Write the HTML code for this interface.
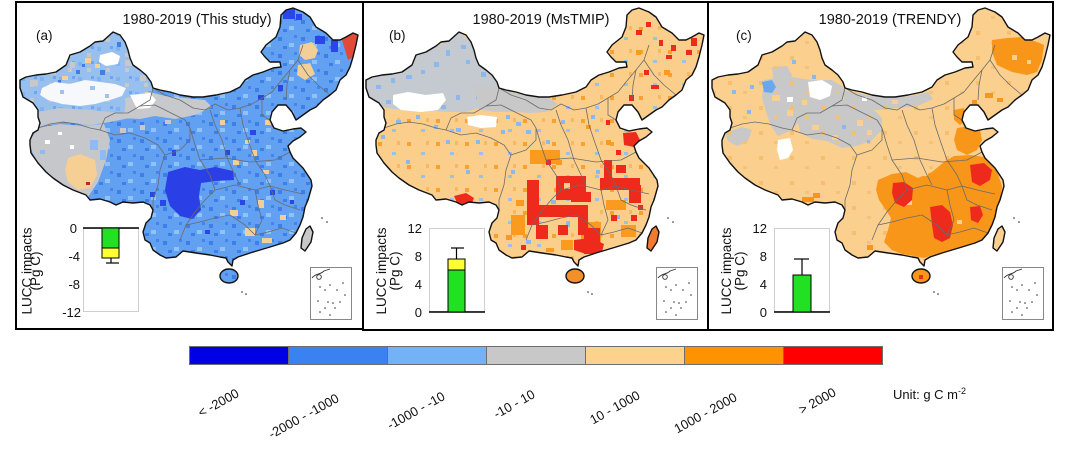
<!DOCTYPE html>
<html><head><meta charset="utf-8"><style>
html,body{margin:0;padding:0;background:#fff;}
svg{display:block;font-family:"Liberation Sans",Arial,sans-serif;}
</style></head><body>
<svg width="1080" height="452" viewBox="0 0 1080 452" xmlns="http://www.w3.org/2000/svg">
<defs>
<path id="cn" d="M20,88 L20,80 26,77 36,75 46,74 56,72 66,65 70,55 80,52 90,46 95,42 103,41 113,32 120,35 125,42 128,50 130,58 133,65 140,70 146,75 151,82 153,88 160,90 170,92 180,95 193,97 203,97 216,95 230,92 240,87 245,80 253,75 263,72 273,68 281,67 280,62 270,62 265,57 261,52 266,45 276,37 280,27 281,15 286,10 293,8 303,12 310,17 316,27 326,33 333,40 340,40 346,37 353,33 358,35 356,45 353,57 350,67 346,75 340,80 336,90 330,95 323,100 316,107 310,110 303,115 296,120 292,112 286,105 278,105 272,112 270,120 274,128 283,131 293,129 301,128 306,132 300,137 293,141 288,146 290,152 293,158 298,163 303,168 307,174 311,180 312,186 310,193 308,200 305,207 303,217 300,225 296,233 290,240 283,243 270,247 260,250 250,253 238,257 233,260 232,266 228,262 226,258 220,257 210,255 196,253 183,251 176,257 166,258 160,255 153,250 150,243 145,240 143,232 146,223 151,218 153,210 150,205 143,202 133,203 123,202 116,205 110,202 100,199 90,200 86,195 73,190 63,185 53,178 46,172 38,163 31,153 30,145 30,140 33,133 38,130 40,123 38,117 38,110 33,103 28,100 23,97 Z"/>
<clipPath id="clip">
<path d="M20,88 L20,80 26,77 36,75 46,74 56,72 66,65 70,55 80,52 90,46 95,42 103,41 113,32 120,35 125,42 128,50 130,58 133,65 140,70 146,75 151,82 153,88 160,90 170,92 180,95 193,97 203,97 216,95 230,92 240,87 245,80 253,75 263,72 273,68 281,67 280,62 270,62 265,57 261,52 266,45 276,37 280,27 281,15 286,10 293,8 303,12 310,17 316,27 326,33 333,40 340,40 346,37 353,33 358,35 356,45 353,57 350,67 346,75 340,80 336,90 330,95 323,100 316,107 310,110 303,115 296,120 292,112 286,105 278,105 272,112 270,120 274,128 283,131 293,129 301,128 306,132 300,137 293,141 288,146 290,152 293,158 298,163 303,168 307,174 311,180 312,186 310,193 308,200 305,207 303,217 300,225 296,233 290,240 283,243 270,247 260,250 250,253 238,257 233,260 232,266 228,262 226,258 220,257 210,255 196,253 183,251 176,257 166,258 160,255 153,250 150,243 145,240 143,232 146,223 151,218 153,210 150,205 143,202 133,203 123,202 116,205 110,202 100,199 90,200 86,195 73,190 63,185 53,178 46,172 38,163 31,153 30,145 30,140 33,133 38,130 40,123 38,117 38,110 33,103 28,100 23,97 Z"/>
<ellipse cx="229" cy="276" rx="9" ry="7"/>
<path d="M310,226 L313,232 311,242 305,251 301,248 302,238 306,229 Z"/>
</clipPath>
<pattern id="pA" width="23" height="17" patternUnits="userSpaceOnUse">
<rect x="2" y="3" width="4" height="4" fill="#3d7ee8"/>
<rect x="13" y="9" width="5" height="4" fill="#8ec2f8"/>
<rect x="18" y="1" width="3" height="3" fill="#4585ea"/>
<rect x="7" y="12" width="4" height="3" fill="#3d7ee8"/>
</pattern>
<pattern id="pX" width="19" height="15" patternUnits="userSpaceOnUse">
<rect x="2" y="2" width="4" height="4" fill="#7fb2f0"/>
<rect x="11" y="8" width="4" height="4" fill="#c8c8c8"/>
<rect x="15" y="1" width="3" height="3" fill="#6da5f0"/>
</pattern>
<pattern id="pB" width="29" height="23" patternUnits="userSpaceOnUse">
<rect x="3" y="4" width="4" height="4" fill="#f9a030"/>
<rect x="17" y="14" width="4" height="3" fill="#9cc0ea"/>
<rect x="22" y="3" width="3" height="4" fill="#f6b860"/>
</pattern>
<pattern id="pC" width="31" height="25" patternUnits="userSpaceOnUse">
<rect x="5" y="6" width="4" height="4" fill="#f6bf70"/>
<rect x="20" y="16" width="4" height="3" fill="#f3c37c"/>
</pattern>
<g id="prov" fill="none" stroke="#6b6b6b" stroke-width="0.8" stroke-linejoin="round">
<path d="M38,128 L50,124 63,122 77,124 90,128 100,130 105,118 115,113 128,113 140,106 150,100 153,88"/>
<path d="M100,130 L115,135 130,133 145,138 158,145 165,155"/>
<path d="M140,106 L155,105 165,110 175,115 185,120 190,128"/>
<path d="M165,155 L160,170 158,185 153,200 153,210"/>
<path d="M153,88 L165,95 180,100 193,108 205,110 215,104 228,110 240,108 252,104 262,98 272,92 280,82 290,70 298,60 303,45"/>
<path d="M190,128 L195,145 200,160 210,175 215,190 205,200 195,212 186,225 180,240"/>
<path d="M186,225 L200,222 215,218 230,215 245,225 255,235 268,232 282,228 296,233"/>
<path d="M215,190 L235,185 255,190 270,186 285,190 303,194"/>
<path d="M210,110 L215,125 222,140 228,160 235,175 240,185"/>
<path d="M240,108 L243,125 248,140 255,160 265,175 270,186"/>
<path d="M200,160 L225,158 250,162 275,160 290,152"/>
<path d="M255,190 L258,205 262,220 255,235"/>
<path d="M298,60 L308,75 318,85 330,95"/>
<path d="M290,70 L287,85 286,100"/>
<path d="M262,98 L262,115 270,120"/>
<path d="M165,155 L180,150 190,140 190,128"/>
<path d="M270,186 L275,200 285,205 300,210"/>
</g>
<g id="outl" fill="none" stroke="#111" stroke-width="1.4" stroke-linejoin="round">
<use href="#cn"/>
<ellipse cx="229" cy="276" rx="9" ry="7"/>
<path d="M310,226 L313,232 311,242 305,251 301,248 302,238 306,229 Z"/>
<circle cx="242" cy="292" r="0.8" fill="#222" stroke="none"/>
<circle cx="246" cy="294" r="0.8" fill="#222" stroke="none"/>
<circle cx="322" cy="218" r="0.8" fill="#222" stroke="none"/>
<circle cx="327" cy="222" r="0.8" fill="#222" stroke="none"/>
</g>
<g id="scs">
<rect x="310.5" y="267.5" width="41" height="52" fill="#fff" stroke="#888" stroke-width="1"/>
<path d="M312,278 C316,273 320,275 324,271 L330,269" fill="none" stroke="#333" stroke-width="0.9"/>
<circle cx="319" cy="277" r="2.3" fill="none" stroke="#333" stroke-width="0.9"/>
<g fill="#333">
<circle cx="320" cy="287" r="0.8"/><circle cx="325" cy="290" r="0.8"/><circle cx="330" cy="285" r="0.8"/>
<circle cx="337" cy="290" r="0.8"/><circle cx="343" cy="283" r="0.8"/><circle cx="318" cy="301" r="0.8"/>
<circle cx="328" cy="302" r="0.8"/><circle cx="333" cy="303" r="0.8"/><circle cx="325" cy="308" r="0.8"/>
<circle cx="340" cy="302" r="0.8"/><circle cx="320" cy="312" r="0.8"/><circle cx="330" cy="315" r="0.8"/>
<circle cx="335" cy="308" r="0.8"/><circle cx="345" cy="295" r="0.8"/>
</g>
</g>
</defs>

<!-- ===== Panel a ===== -->
<g>
<g clip-path="url(#clip)">
<rect x="0" y="0" width="370" height="300" fill="#62a0f2"/>
<rect x="0" y="0" width="370" height="300" fill="url(#pA)"/>
<polygon points="20,88 20,80 26,77 36,75 46,74 56,72 66,65 70,55 80,52 90,46 95,42 103,41 113,32 120,35 125,42 128,50 130,58 133,65 140,70 146,75 151,82 153,88 150,100 140,106 128,113 115,113 105,118 100,130 90,128 77,124 63,122 50,124 38,128 38,110 33,103 28,100 23,97" fill="#98c0ee"/>
<polygon points="20,88 20,80 26,77 36,75 46,74 56,72 66,65 70,55 80,52 90,46 95,42 103,41 113,32 120,35 125,42 128,50 130,58 133,65 140,70 146,75 151,82 153,88 150,100 140,106 128,113 115,113 105,118 100,130 90,128 77,124 63,122 50,124 38,128 38,110 33,103 28,100 23,97" fill="url(#pX)"/>
<g fill="#c8c8c8"><rect x="30" y="80" width="8" height="6"/><rect x="50" y="70" width="6" height="5"/><rect x="70" y="62" width="5" height="6"/><rect x="125" y="60" width="8" height="6"/><rect x="140" y="75" width="6" height="6"/></g>
<g fill="#f5d09a"><rect x="85" y="58" width="6" height="5"/><rect x="95" y="64" width="5" height="4"/><rect x="62" y="76" width="6" height="4"/><rect x="145" y="92" width="5" height="4"/></g>
<g fill="#3f7ee8"><rect x="100" y="70" width="5" height="5"/><rect x="117" y="42" width="4" height="5"/><rect x="76" y="70" width="4" height="4"/><rect x="82" y="64" width="3" height="3"/><rect x="58" y="80" width="3" height="3"/></g>
<path d="M42,88 L55,82 70,84 85,80 100,82 115,84 126,88 122,96 110,100 95,104 80,106 62,104 48,100 40,95Z" fill="#f7f8fb"/>
<g fill="#9cc3ee"><rect x="60" y="90" width="4" height="4"/><rect x="90" y="86" width="5" height="4"/><rect x="105" y="94" width="4" height="4"/></g>
<path d="M100,55 L112,52 120,56 118,64 106,66 99,62Z" fill="#fff"/>
<path d="M38,112 L60,108 90,110 120,113 140,107 150,101 146,112 130,118 110,122 90,125 65,122 40,127Z" fill="#c4c7cd"/>
<path d="M30,140 L38,128 60,124 85,126 104,124 110,140 106,160 98,182 88,197 73,190 53,178 38,163 30,148Z" fill="#c5c7ca"/>
<g fill="#fff"><rect x="45" y="140" width="5" height="4"/><rect x="70" y="145" width="4" height="4"/><rect x="58" y="132" width="4" height="3"/></g>
<g fill="#8ebcf2"><rect x="90" y="140" width="8" height="10"/><rect x="100" y="150" width="6" height="10"/><rect x="40" y="150" width="5" height="4"/></g>
<path d="M68,158 L80,154 95,160 97,175 90,188 78,190 68,182 65,170Z" fill="#f6cf95"/>
<path d="M126,98 L150,92 165,96 185,98 205,100 212,107 195,115 175,119 155,116 140,119 124,118Z" fill="#c8c9cc"/>
<path d="M130,95 L150,93 156,100 150,108 137,109Z" fill="#fff"/>
<g fill="#c8c8c8"><rect x="120" y="128" width="6" height="5"/><rect x="140" y="125" width="5" height="5"/><rect x="165" y="120" width="6" height="4"/></g>
<path d="M168,172 L185,167 200,170 215,167 233,171 234,180 216,181 201,183 199,196 201,210 192,219 180,216 170,206 165,190Z" fill="#2a3fe6"/>
<g fill="#2a45e8"><rect x="283" y="9" width="12" height="10"/><rect x="296" y="14" width="6" height="6"/><rect x="315" y="36" width="10" height="8"/><rect x="331" y="40" width="7" height="12"/><rect x="258" y="95" width="6" height="5"/><rect x="278" y="85" width="5" height="6"/><rect x="250" y="130" width="6" height="5"/><rect x="225" y="150" width="5" height="5"/><rect x="160" y="200" width="6" height="6"/><rect x="150" y="192" width="5" height="5"/><rect x="205" y="230" width="5" height="4"/><rect x="270" y="190" width="5" height="5"/><rect x="290" y="200" width="4" height="4"/><rect x="300" y="160" width="5" height="6"/><rect x="172" y="150" width="4" height="6"/><rect x="240" y="200" width="5" height="5"/></g>
<g fill="#f3cf98"><path d="M300,45 L312,42 318,50 315,58 305,60 299,55Z"/><path d="M298,65 L310,63 315,74 305,80 297,75Z"/>
<rect x="230" y="210" width="8" height="6"/><rect x="245" y="228" width="10" height="8"/><rect x="258" y="200" width="6" height="8"/><rect x="262" y="238" width="10" height="5"/><rect x="233" y="160" width="6" height="5"/><rect x="252" y="150" width="5" height="6"/><rect x="263" y="170" width="6" height="4"/><rect x="280" y="215" width="6" height="5"/><rect x="265" y="120" width="6" height="5"/><rect x="220" y="120" width="5" height="5"/><rect x="245" y="140" width="5" height="4"/></g>
<path d="M345,33 L353,33 358,35 356,45 353,57 348,60 345,50 342,40Z" fill="#e24a38"/>
<rect x="86" y="182" width="4" height="3" fill="#d02030"/>
<rect x="300" y="225" width="14" height="28" fill="#c8c8c8"/>
</g>
<use href="#prov"/>
<use href="#outl"/>
<use href="#scs"/>
</g>

<!-- ===== Panel b ===== -->
<g transform="translate(346,0)">
<g clip-path="url(#clip)">
<rect x="0" y="0" width="370" height="300" fill="#fbcf8b"/>
<rect x="0" y="0" width="370" height="300" fill="url(#pB)"/>
<path d="M20,80 L36,75 56,72 66,65 70,55 90,46 103,41 113,32 125,42 133,65 146,75 153,88 150,100 140,106 120,112 100,112 80,110 60,110 40,108 25,100 20,88Z" fill="#c5c9d0"/>
<g fill="#8db8ec"><rect x="30" y="85" width="5" height="4"/><rect x="45" y="78" width="4" height="5"/><rect x="60" y="75" width="6" height="4"/><rect x="75" y="70" width="4" height="4"/><rect x="88" y="62" width="5" height="5"/><rect x="100" y="50" width="4" height="6"/><rect x="115" y="45" width="5" height="4"/><rect x="120" y="60" width="4" height="4"/><rect x="135" y="72" width="5" height="5"/><rect x="40" y="100" width="5" height="4"/><rect x="60" y="95" width="4" height="4"/><rect x="95" y="105" width="5" height="4"/><rect x="130" y="95" width="5" height="4"/><rect x="110" y="95" width="4" height="5"/><rect x="70" y="115" width="4" height="4"/><rect x="50" y="120" width="5" height="4"/><rect x="88" y="125" width="4" height="4"/><rect x="35" y="135" width="4" height="4"/><rect x="110" y="128" width="5" height="4"/><rect x="140" y="120" width="4" height="5"/><rect x="160" y="115" width="4" height="4"/><rect x="170" y="122" width="5" height="4"/><rect x="155" y="130" width="4" height="4"/><rect x="130" y="140" width="4" height="4"/><rect x="100" y="140" width="4" height="4"/><rect x="200" y="140" width="4" height="4"/><rect x="215" y="120" width="4" height="4"/><rect x="245" y="115" width="4" height="4"/><rect x="180" y="130" width="5" height="4"/><rect x="165" y="170" width="4" height="4"/><rect x="250" y="170" width="4" height="4"/><rect x="60" y="160" width="4" height="4"/><rect x="120" y="170" width="4" height="4"/><rect x="205" y="200" width="5" height="4"/><rect x="220" y="222" width="4" height="5"/><rect x="270" y="215" width="4" height="4"/><rect x="180" y="240" width="5" height="4"/><rect x="290" y="180" width="4" height="5"/></g>
<path d="M47,95 L62,92 80,95 97,93 100,100 92,110 75,112 55,110 47,104Z" fill="#fff"/>
<path d="M121,117 L135,115 151,117 150,127 135,128 122,125Z" fill="#fff"/>
<path d="M127,86 L153,88 165,92 185,96 203,98 212,104 200,112 185,113 170,112 150,112 135,110Z" fill="#c8c8c8"/>
<g fill="#fa9a1e"><rect x="184" y="150" width="30" height="14"/><rect x="235" y="222" width="20" height="22"/><rect x="165" y="215" width="14" height="20"/><rect x="260" y="200" width="20" height="10"/><rect x="275" y="225" width="15" height="12"/><rect x="170" y="200" width="8" height="6"/><rect x="200" y="248" width="8" height="4"/><rect x="210" y="160" width="6" height="5"/><rect x="260" y="140" width="5" height="5"/><rect x="300" y="140" width="4" height="5"/><rect x="240" y="125" width="5" height="4"/><rect x="318" y="70" width="6" height="5"/><rect x="290" y="50" width="5" height="5"/><rect x="160" y="235" width="6" height="5"/><rect x="215" y="240" width="12" height="10"/></g>
<g fill="#ee2a1c">
<rect x="181" y="180" width="12" height="45"/>
<rect x="193" y="205" width="45" height="12"/>
<rect x="210" y="176" width="30" height="24"/>
<rect x="225" y="192" width="20" height="10"/>
<rect x="232" y="205" width="10" height="30"/>
<rect x="238" y="228" width="16" height="26"/>
<rect x="190" y="225" width="12" height="14"/>
<rect x="254" y="178" width="40" height="12"/>
<rect x="283" y="185" width="12" height="18"/>
<rect x="258" y="160" width="8" height="18"/>
<rect x="270" y="165" width="10" height="8"/>
<rect x="212" y="225" width="10" height="10"/>
<path d="M228,240 L245,238 258,244 256,252 240,254 228,250Z"/>
<path d="M277,133 L290,132 294,140 288,147 278,145Z"/>
<path d="M108,196 L120,193 128,198 125,205 112,205Z"/>
<rect x="285" y="215" width="6" height="6"/><rect x="292" y="205" width="5" height="5"/><rect x="290" y="30" width="6" height="5"/><rect x="300" y="22" width="5" height="5"/><rect x="313" y="40" width="4" height="6"/><rect x="320" y="55" width="6" height="4"/><rect x="298" y="70" width="5" height="5"/><rect x="305" y="85" width="8" height="4"/><rect x="283" y="95" width="5" height="6"/><rect x="325" y="45" width="5" height="6"/><rect x="340" y="50" width="6" height="5"/><rect x="345" y="38" width="6" height="8"/><rect x="260" y="120" width="4" height="5"/><rect x="270" y="150" width="5" height="5"/><rect x="175" y="245" width="5" height="5"/><rect x="265" y="215" width="6" height="6"/><rect x="200" y="160" width="5" height="5"/></g>
<g fill="#fbcf8b"><rect x="196" y="185" width="12" height="12"/><rect x="218" y="183" width="6" height="6"/><rect x="205" y="218" width="6" height="5"/></g>
<rect x="300" y="225" width="14" height="28" fill="#f07a30"/>
<rect x="219" y="268" width="20" height="16" fill="#f3902a"/>
</g>
<use href="#prov"/>
<use href="#outl"/>
<use href="#scs"/>
</g>

<!-- ===== Panel c ===== -->
<g transform="translate(692,0)">
<g clip-path="url(#clip)">
<rect x="0" y="0" width="370" height="300" fill="#fbd08e"/>
<path d="M72,80 L95,76 118,80 140,80 153,88 150,100 140,106 125,112 110,118 100,130 86,136 79,126 74,112 70,98Z" fill="#c8c8c8"/>
<path d="M105,118 L125,112 140,106 150,100 165,102 180,108 190,118 190,130 180,140 165,146 150,148 135,141 120,139 108,132Z" fill="#c8c8c8"/>
<path d="M150,90 L175,95 200,97 220,96 236,92 241,99 226,106 205,108 185,110 165,108 152,100Z" fill="#c8c8c8"/>
<path d="M33,133 L50,127 60,130 56,141 45,146 36,141Z" fill="#c8c8c8"/>
<path d="M80,67 L95,66 100,75 96,84 82,84Z" fill="#c8c8c8"/>
<rect x="0" y="0" width="370" height="300" fill="url(#pC)"/>
<g fill="#fbd08e"><rect x="80" y="95" width="8" height="6"/><rect x="95" y="110" width="6" height="6"/><rect x="120" y="125" width="7" height="5"/><rect x="140" y="135" width="6" height="5"/><rect x="165" y="120" width="6" height="6"/><rect x="175" y="130" width="5" height="5"/><rect x="110" y="100" width="5" height="5"/><rect x="200" y="100" width="6" height="4"/></g>
<g fill="#fff"><path d="M116,82 L130,80 140,86 138,96 128,100 118,97Z"/><path d="M86,140 L98,138 101,150 96,158 88,160 85,150Z"/><rect x="95" y="97" width="6" height="5"/><rect x="170" y="97" width="5" height="4"/></g>
<path d="M70,82 L80,80 84,87 80,93 72,92Z" fill="#6aa8ee"/>
<g fill="#8db8ec"><rect x="40" y="90" width="4" height="4"/><rect x="100" y="60" width="4" height="4"/><rect x="120" y="75" width="4" height="4"/><rect x="55" y="110" width="4" height="4"/><rect x="150" y="125" width="4" height="4"/><rect x="175" y="140" width="3" height="3"/><rect x="58" y="85" width="4" height="4"/></g>
<path d="M300,40 L315,38 330,37 345,42 352,45 350,60 345,72 335,75 320,72 305,65 300,52Z" fill="#f8961a"/>
<g fill="#fbd08e"><rect x="320" y="55" width="5" height="5"/><rect x="335" y="60" width="4" height="4"/></g>
<path d="M186,180 L200,174 214,172 226,178 240,172 252,162 262,156 278,155 292,157 301,164 306,174 310,186 308,200 303,215 298,230 290,240 275,246 260,250 245,254 232,258 222,256 210,254 200,250 192,242 196,230 199,218 194,210 187,200 184,190Z" fill="#f8961a"/>
<path d="M265,128 L278,126 288,130 290,140 285,150 275,155 265,150 262,140Z" fill="#f8961a"/>
<path d="M262,110 L272,108 275,120 268,125 262,120Z" fill="#f8961a"/>
<g fill="#f8961a"><rect x="293" y="93" width="8" height="5"/><rect x="305" y="98" width="6" height="4"/><rect x="280" y="100" width="5" height="4"/><rect x="110" y="197" width="12" height="5"/><rect x="121" y="193" width="7" height="5"/><rect x="175" y="245" width="6" height="5"/><rect x="219" y="268" width="20" height="16"/></g>
<g fill="#fbd08e"><rect x="215" y="200" width="5" height="5"/><rect x="265" y="220" width="5" height="4"/><rect x="230" y="170" width="6" height="6"/></g>
<g fill="#ee2a1c"><path d="M201,183 L212,182 221,188 220,200 212,207 203,203 200,193Z"/><path d="M238,207 L250,205 258,212 261,225 258,238 250,242 242,238 240,225Z"/><path d="M278,165 L292,163 300,170 298,180 288,186 280,182Z"/><path d="M278,207 L288,206 291,215 286,223 279,220Z"/><rect x="227" y="275" width="4" height="4"/></g>
</g>
<use href="#prov"/>
<use href="#outl"/>
<use href="#scs"/>
</g>

<!-- Panel frames -->
<g fill="none" stroke="#000" stroke-width="2">
<rect x="16" y="2" width="347" height="327"/>
<rect x="363" y="2" width="345" height="328"/>
<rect x="708" y="2" width="345" height="328"/>
</g>

<!-- Titles -->
<g font-size="14.5" fill="#111" text-anchor="middle">
<text x="197" y="24">1980-2019 (This study)</text>
<text x="541" y="24">1980-2019 (MsTMIP)</text>
<text x="890" y="24">1980-2019 (TRENDY)</text>
</g>
<g font-size="13.5" fill="#111">
<text x="36" y="40">(a)</text>
<text x="389" y="40">(b)</text>
<text x="736" y="40">(c)</text>
</g>

<!-- Inset bar chart a -->
<rect x="83.5" y="228.5" width="55" height="83" fill="#fff" stroke="#cfcfcf" stroke-width="1"/>
<line x1="83" y1="228" x2="139" y2="228" stroke="#000" stroke-width="1.5"/>
<rect x="102" y="228" width="17" height="20" fill="#22e022" stroke="#000" stroke-width="1"/>
<rect x="102" y="248" width="17" height="10" fill="#ffff33" stroke="#000" stroke-width="1"/>
<line x1="111" y1="258" x2="111" y2="263" stroke="#000" stroke-width="1.2"/>
<line x1="106" y1="263" x2="119" y2="263" stroke="#000" stroke-width="1.2"/>
<g font-size="13" fill="#111" text-anchor="end">
<text x="77" y="233">0</text><text x="80" y="261">-4</text><text x="80" y="289">-8</text><text x="81" y="317">-12</text>
</g>
<g font-size="13.5" fill="#111" text-anchor="middle">
<text transform="translate(31.5,271) rotate(-90)">LUCC impacts</text>
<text transform="translate(40,271) rotate(-90)">(Pg C)</text>
</g>

<!-- Inset bar chart b -->
<rect x="429.5" y="228.5" width="55" height="83" fill="#fff" stroke="#cfcfcf" stroke-width="1"/>
<line x1="429" y1="312" x2="485" y2="312" stroke="#000" stroke-width="1.5"/>
<rect x="448" y="270" width="17" height="42" fill="#22e022" stroke="#000" stroke-width="1"/>
<rect x="448" y="259" width="17" height="11" fill="#ffff33" stroke="#000" stroke-width="1"/>
<line x1="456.5" y1="259" x2="456.5" y2="248" stroke="#000" stroke-width="1.2"/>
<line x1="451" y1="248" x2="464" y2="248" stroke="#000" stroke-width="1.2"/>
<g font-size="13" fill="#111" text-anchor="end">
<text x="422" y="233">12</text><text x="422" y="261">8</text><text x="422" y="289">4</text><text x="422" y="317">0</text>
</g>
<g font-size="13.5" fill="#111" text-anchor="middle">
<text transform="translate(386,271) rotate(-90)">LUCC impacts</text>
<text transform="translate(399.5,271) rotate(-90)">(Pg C)</text>
</g>

<!-- Inset bar chart c -->
<rect x="774.5" y="228.5" width="55" height="83" fill="#fff" stroke="#cfcfcf" stroke-width="1"/>
<line x1="774" y1="312" x2="830" y2="312" stroke="#000" stroke-width="1.5"/>
<rect x="793" y="275" width="18" height="37" fill="#22e022" stroke="#000" stroke-width="1"/>
<line x1="802" y1="275" x2="802" y2="259" stroke="#000" stroke-width="1.2"/>
<line x1="794" y1="259" x2="809" y2="259" stroke="#000" stroke-width="1.2"/>
<g font-size="13" fill="#111" text-anchor="end">
<text x="767" y="233">12</text><text x="767" y="261">8</text><text x="767" y="289">4</text><text x="767" y="317">0</text>
</g>
<g font-size="13.5" fill="#111" text-anchor="middle">
<text transform="translate(731,271) rotate(-90)">LUCC impacts</text>
<text transform="translate(744.5,271) rotate(-90)">(Pg C)</text>
</g>

<!-- Colour bar -->
<g stroke="#6e6e6e" stroke-width="1">
<rect x="189.5" y="346.5" width="99" height="18" fill="#0000e6"/>
<rect x="288.5" y="346.5" width="99" height="18" fill="#3a82f2"/>
<rect x="387.5" y="346.5" width="99" height="18" fill="#74b2f8"/>
<rect x="486.5" y="346.5" width="99" height="18" fill="#c8c8c8"/>
<rect x="585.5" y="346.5" width="99" height="18" fill="#fdd28c"/>
<rect x="684.5" y="346.5" width="99" height="18" fill="#ff9200"/>
<rect x="783.5" y="346.5" width="99" height="18" fill="#fe0000"/>
</g>
<g font-size="13" fill="#111" text-anchor="end">
<text transform="translate(240,396) rotate(-29)">&lt; -2000</text>
<text transform="translate(340,401) rotate(-29)">-2000 - -1000</text>
<text transform="translate(446,399) rotate(-29)">-1000 - -10</text>
<text transform="translate(536,397) rotate(-29)">-10 - 10</text>
<text transform="translate(641,398) rotate(-29)">10 - 1000</text>
<text transform="translate(738,400) rotate(-29)">1000 - 2000</text>
<text transform="translate(837,395) rotate(-29)">&gt; 2000</text>
</g>
<text x="893" y="399" font-size="13" fill="#111">Unit: g C m<tspan font-size="9" dy="-5">-2</tspan></text>
</svg>
</body></html>
